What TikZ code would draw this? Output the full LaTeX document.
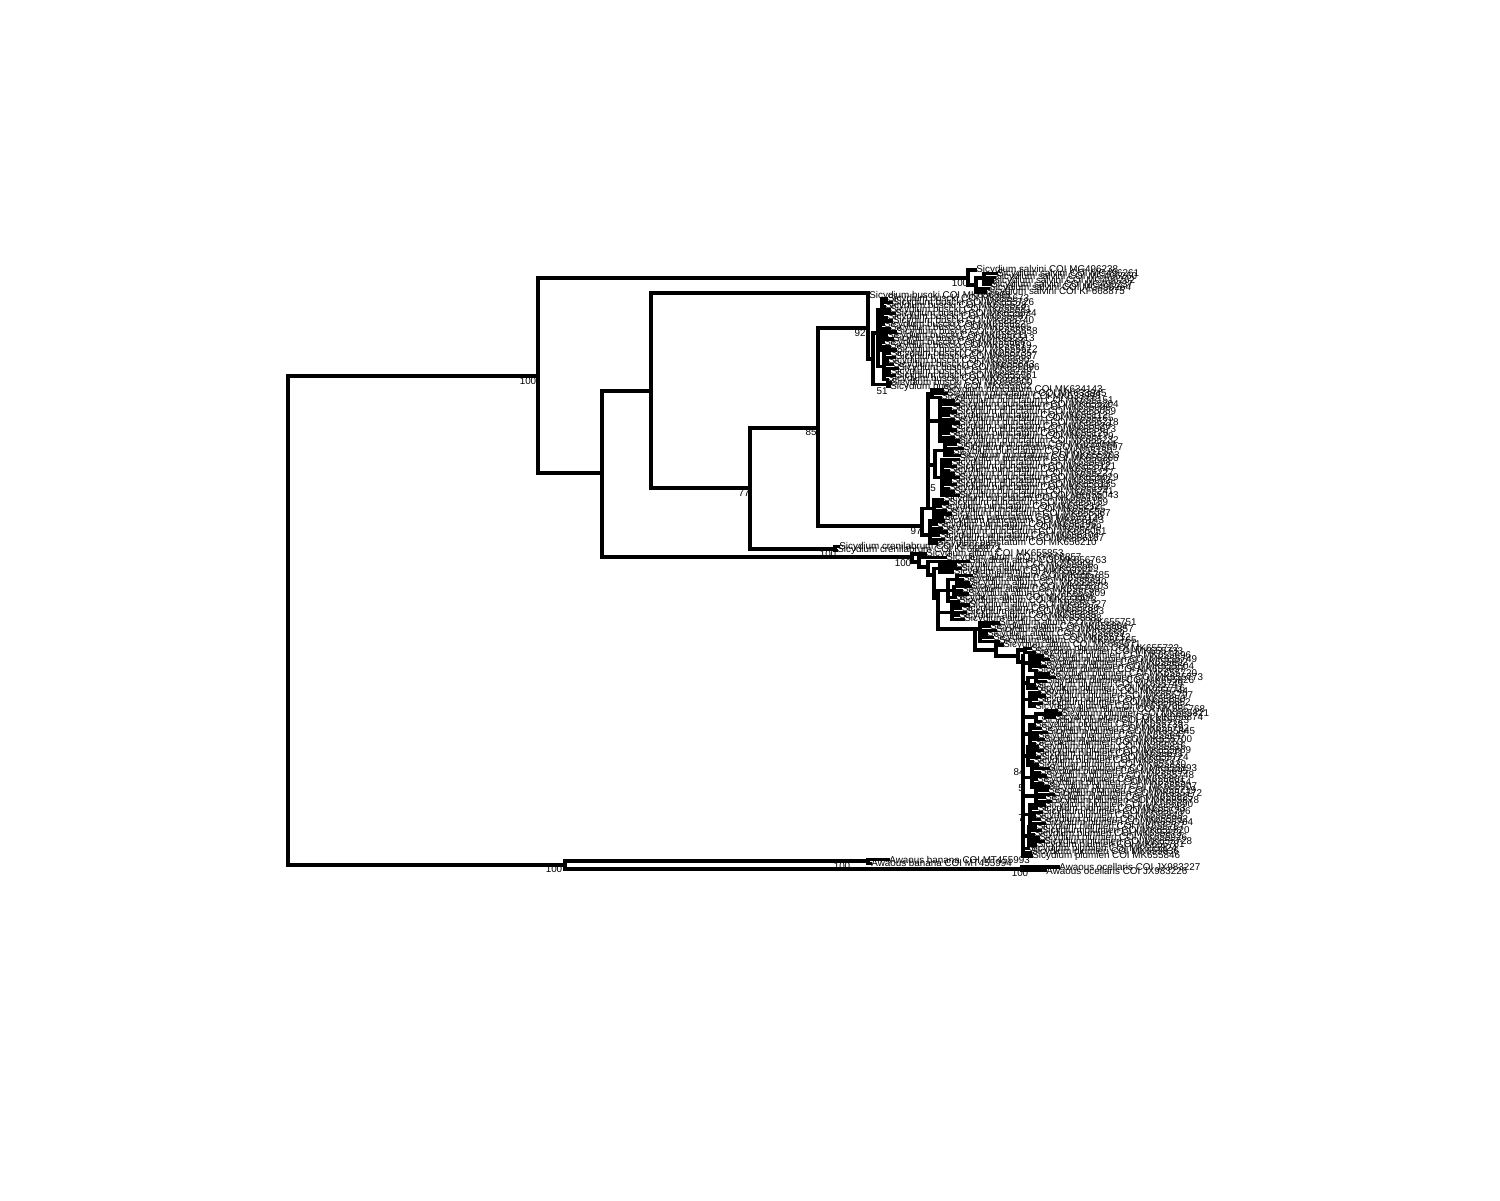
\documentclass[tikz,border=0pt]{standalone}
\usepackage{fontspec}
\setmainfont{Liberation Sans}
\tikzset{
 br/.style={line width=1.9pt, line cap=rect},
 lab/.style={anchor=west, inner sep=0.6pt, font=\fontsize{5.6}{6}\selectfont},
 bs/.style={inner sep=0pt, font=\fontsize{5.6}{6}\selectfont},
}
\newcommand\thb[3]{\draw[br] (#1,#3) -- (#2,#3);}
\newcommand\tvb[3]{\draw[br] (#1,#2) -- (#1,#3);}
\newcommand\tleaf[4]{\pgfmathsetmacro\yy{270+3.64*#3}\coordinate (t#3) at (#2,\yy);\draw[br] (#1,\yy) -- (t#3);\node[lab] (l#3) at (t#3) {#4};}
\newcommand\tcomb[8]{\foreach \k in {#2,...,#3}{\pgfmathsetmacro\tx{#4+mod(\k*7,5)*#5/4}\pgfmathtruncatemacro\acc{#7+mod(\k*53,251)}\tleaf{#1}{\tx}{\k}{#6 COI #8\acc}}\pgfmathsetmacro\ya{270+3.64*#2}\pgfmathsetmacro\yb{270+3.64*#3}\draw[br] (#1,\ya) -- (#1,\yb);}
\begin{document}
\begin{tikzpicture}[x=0.02cm,y=-0.02cm]
\fill[white] (0,0) rectangle (1500,1200);
\useasboundingbox (0,0) rectangle (1500,1200);
% backbone
\tvb{288}{376}{865}
\thb{288}{538}{376}
\thb{288}{565}{865}
\tvb{538}{278}{473}
\thb{538}{968}{278}
\thb{538}{602}{473}
\tvb{602}{391}{557}
\thb{602}{651}{391}
\thb{602}{912}{557}
\tvb{651}{293}{488}
\thb{651}{866}{293}
\thb{651}{750}{488}
\tvb{750}{428}{549}
\thb{750}{818}{428}
\thb{750}{835}{549}
\tvb{818}{328}{526}
\thb{818}{868}{328}
\thb{818}{922}{526}
% salvini
\tvb{968}{270}{285}
\tleaf{968}{975}{0}{Sicydium salvini COI MG496238}
\thb{968}{976}{285}
\tvb{976}{278}{291.84}
\thb{976}{984}{278}
\tvb{984}{273.64}{284.56}
\tleaf{984}{996}{1}{Sicydium salvini COI MG496261}
\tleaf{984}{994}{2}{Sicydium salvini COI MG496260}
\tleaf{984}{992}{3}{Sicydium salvini COI MG496262}
\tleaf{984}{990}{4}{Sicydium salvini COI MG496237}
\tleaf{976}{988}{5}{Sicydium salvini COI MG496264}
\tleaf{976}{985}{6}{Sicydium salvini COI KF668875}
% buscki
\tvb{868}{293}{359}
\tleaf{868}{868}{7}{Sicydium buscki COI MK656808}
\thb{868}{873}{359}
\tvb{873}{333}{384.66}
\thb{873}{878}{333}
\tvb{878}{310.04}{366.46}
\thb{878}{882}{310.04}
\tcomb{882}{8}{14}{884}{10}{Sicydium buscki}{5500}{MK65}
\thb{878}{880}{337.34}
\tcomb{880}{15}{22}{883}{12}{Sicydium buscki}{5510}{MK65}
\thb{878}{884}{366.46}
\tcomb{884}{23}{30}{887}{10}{Sicydium buscki}{5520}{MK65}
\thb{873}{888}{384.66}
\tvb{888}{382.84}{386.48}
\tleaf{888}{890}{31}{Sicydium buscki COI MK655500}
\tleaf{888}{889}{32}{Sicydium buscki COI MK655502}
% punctatum
\tvb{922}{508.42}{535}
\thb{922}{928}{508.42}
\tvb{928}{393.76}{508.42}
\thb{928}{932}{393.76}
\tcomb{932}{33}{35}{940}{8}{Sicydium punctatum}{3900}{MK63}
\thb{928}{940}{421.06}
\tcomb{940}{36}{47}{948}{10}{Sicydium punctatum}{5000}{MK65}
\tvb{935}{450.18}{477.48}
\thb{928}{935}{465}
\thb{935}{945}{450.18}
\tcomb{945}{48}{51}{952}{14}{Sicydium punctatum}{5010}{MK65}
\thb{935}{942}{477.48}
\tcomb{942}{52}{62}{948}{10}{Sicydium punctatum}{5020}{MK65}
\thb{928}{934}{508.42}
\tcomb{934}{63}{68}{940}{10}{Sicydium punctatum}{5030}{MK65}
\thb{922}{930}{535}
\tcomb{930}{69}{75}{936}{10}{Sicydium punctatum}{6000}{MK65}
% crenilabrum
\tvb{835}{546.64}{550.28}
\tleaf{835}{838}{76}{Sicydium crenilabrum COI KF668871}
\tleaf{835}{836}{77}{Sicydium crenilabrum COI KF668872}
% ladder
\tvb{912}{553.92}{562}
\tleaf{912}{925}{78}{Sicydium altum COI MK655853}
\thb{912}{919}{562}
\tvb{919}{557.56}{567}
\tleaf{919}{945}{79}{Sicydium altum COI KF668857}
\thb{919}{928}{567}
\tvb{928}{561.2}{575}
\tleaf{928}{968}{80}{Sicydium altum COI MK656763}
\thb{928}{934}{575}
\tvb{934}{568.48}{598}
\thb{934}{940}{568.48}
\tcomb{940}{81}{83}{950}{10}{Sicydium altum}{5880}{MK65}
\thb{934}{938}{598}
\tvb{938}{590.32}{629}
\thb{938}{948}{590.32}
\tvb{948}{579.4}{601.24}
\thb{948}{957}{579.4}
\tcomb{957}{84}{86}{962}{12}{Sicydium altum}{5600}{MK65}
\thb{948}{954}{590.32}
\tcomb{954}{87}{89}{958}{12}{Sicydium altum}{5610}{MK65}
\tleaf{948}{955}{90}{Sicydium altum COI MK655804}
\tleaf{948}{958}{91}{Sicydium altum COI MK655873}
\thb{938}{952}{612.16}
\tcomb{952}{92}{96}{958}{10}{Sicydium altum}{5620}{MK65}
\thb{938}{975}{629}
\tvb{975}{629}{650}
\thb{975}{980}{629}
\tcomb{980}{97}{102}{986}{12}{Sicydium altum}{5630}{MK65}
\thb{975}{996}{650}
\tvb{996}{644.92}{656}
\tleaf{996}{1002}{103}{Sicydium altum COI MK655671}
\thb{996}{1018}{656}
\tvb{1018}{650}{662}
\thb{1018}{1025}{650}
\tvb{1025}{648.56}{652.2}
\tleaf{1025}{1030}{104}{Sicydium plumieri COI MK655722}
\tleaf{1025}{1034}{105}{Sicydium plumieri COI MK655733}
\thb{1018}{1023}{662}
% plumieri
\tvb{1023}{656}{856.04}
\thb{1023}{1030}{663.12}
\tcomb{1030}{106}{110}{1036}{12}{Sicydium plumieri}{5600}{MK65}
\tvb{1028}{677.68}{688.6}
\thb{1023}{1028}{683}
\thb{1028}{1036}{677.68}
\tcomb{1036}{111}{113}{1042}{12}{Sicydium plumieri}{5610}{MK65}
\tleaf{1028}{1034}{114}{Sicydium plumieri COI MK655749}
\tleaf{1028}{1036}{115}{Sicydium plumieri COI MK655716}
\thb{1023}{1030}{699.52}
\tcomb{1030}{116}{120}{1034}{10}{Sicydium plumieri}{5620}{MK65}
\tvb{1036}{714.08}{721.36}
\thb{1023}{1036}{717}
\thb{1036}{1046}{714.08}
\tcomb{1046}{121}{123}{1052}{8}{Sicydium plumieri}{5630}{MK65}
\tleaf{1036}{1040}{124}{Sicydium plumieri COI MK655723}
\thb{1023}{1030}{734.1}
\tcomb{1030}{125}{130}{1034}{12}{Sicydium plumieri}{5640}{MK65}
\thb{1023}{1028}{755.94}
\tcomb{1028}{131}{136}{1032}{10}{Sicydium plumieri}{5650}{MK65}
\thb{1023}{1032}{777.78}
\tcomb{1032}{137}{142}{1036}{12}{Sicydium plumieri}{5660}{MK65}
\thb{1023}{1036}{795.98}
\tcomb{1036}{143}{146}{1044}{12}{Sicydium plumieri}{5670}{MK65}
\thb{1023}{1030}{814.18}
\tcomb{1030}{147}{152}{1034}{10}{Sicydium plumieri}{5680}{MK65}
\thb{1023}{1029}{836.02}
\tcomb{1029}{153}{158}{1033}{10}{Sicydium plumieri}{5690}{MK65}
\tleaf{1023}{1028}{159}{Sicydium plumieri COI MK655824}
\tleaf{1023}{1030}{160}{Sicydium plumieri COI MK655836}
\tleaf{1023}{1031}{161}{Sicydium plumieri COI MK655846}
% Awaous
\tvb{565}{861}{869}
\thb{565}{868}{861}
\tvb{868}{859.68}{863.32}
\tleaf{868}{888}{162}{Awaous banana COI MT455993}
\tleaf{868}{870}{163}{Awaous banana COI MT455994}
\thb{565}{1022}{869}
\tvb{1022}{866.96}{870.6}
\tleaf{1022}{1058}{164}{Awaous ocellaris COI JX983227}
\tleaf{1022}{1045}{165}{Awaous ocellaris COI JX983226}
% support values
\node[bs] (b1) at (528,381) {100};
\node[bs] (b2) at (960,283) {100};
\node[bs] (b3) at (860,333) {92};
\node[bs] (b4) at (882,391) {51};
\node[bs] (b5) at (811,432) {85};
\node[bs] (b6) at (744,493) {77};
\node[bs] (b7) at (916,531) {97};
\node[bs] (b8) at (828,554) {100};
\node[bs] (b9) at (903,563) {100};
\node[bs] (b10) at (1019,772) {84};
\node[bs] (b11) at (554,869) {100};
\node[bs] (b12) at (842,866) {100};
\node[bs] (b13) at (1020,873) {100};
\node[bs] (b14) at (933,488) {5};
\node[bs] (b15) at (1021,788) {5};
\node[bs] (b16) at (1021,818) {7};
\end{tikzpicture}
\end{document}
